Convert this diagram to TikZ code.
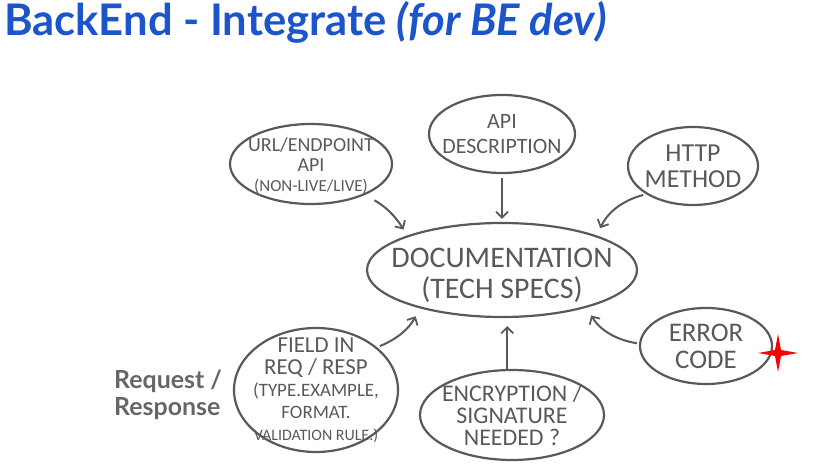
\documentclass[tikz,border=0pt]{standalone}
\usepackage{fontspec}
\setmainfont{Carlito}
\newfontfamily\titlefont{Lato}
\usetikzlibrary{arrows.meta, shapes.geometric}

\definecolor{titleblue}{HTML}{1B55C9}
\definecolor{sketchgray}{HTML}{595959}
\definecolor{labelgray}{HTML}{666666}

\begin{document}
\begin{tikzpicture}[
        x=1bp, y=-1bp,
        bubble/.style={ellipse, draw=sketchgray, line width=2.2bp,
                       text=sketchgray, inner sep=-28bp, align=center},
        feed/.style={-{Straight Barb[length=6bp, width=12bp, line width=1.8bp]},
                     draw=sketchgray, line width=2bp}
    ]
        \useasboundingbox (0,0) rectangle (825,471);

        % title
        \node[anchor=base west, inner sep=0pt, text=titleblue,
              font=\titlefont\bfseries\fontsize{43.7}{46}\selectfont] (title)
            at (4,36) {BackEnd - Integrate \textit{(for BE dev)}};

        % centre
        \node[bubble, minimum width=270bp, minimum height=94bp,
              font=\fontsize{30}{31}\selectfont] (doc) at (502,270)
            {\rule{0pt}{30bp}DOCUMENTATION\\(TECH SPECS)};

        % outer bubbles
        \node[bubble, minimum width=162bp, minimum height=80bp,
              font=\fontsize{20}{20}\selectfont] (url) at (311,164)
            {\rule{0pt}{18bp}URL/ENDPOINT\\API\\{\fontsize{17}{19}\selectfont (NON-LIVE/LIVE)}};
        \node[bubble, minimum width=146bp, minimum height=78bp,
              font=\fontsize{22}{25}\selectfont] (desc) at (502,134)
            {API\\DESCRIPTION};
        \node[bubble, minimum width=130bp, minimum height=78bp,
              font=\fontsize{26}{26}\selectfont] (http) at (693,166)
            {HTTP\\METHOD};
        \node[bubble, minimum width=164bp, minimum height=124bp,
              font=\fontsize{23}{22}\selectfont] (field) at (316,390)
            {FIELD IN\\REQ / RESP\\{\fontsize{19}{20}\selectfont (TYPE.EXAMPLE,}\\
             {\fontsize{19}{18}\selectfont FORMAT.}\\
             {\fontsize{16}{16}\selectfont VALIDATION RULE.)}};
        \node[bubble, minimum width=184bp, minimum height=90bp,
              font=\fontsize{24}{22}\selectfont] (crypt) at (512,415)
            {ENCRYPTION /\\SIGNATURE\\NEEDED ?};
        \node[bubble, minimum width=132bp, minimum height=76bp,
              font=\fontsize{27}{27}\selectfont] (err) at (706,346)
            {ERROR\\CODE};

        % side label
        \node[anchor=base west, align=left, text=labelgray, inner sep=0pt,
              font=\titlefont\bfseries\fontsize{25}{27}\selectfont] (reqres)
            at (114,415) {Request /\\Response};

        % red star
        \fill[red] (778,334) -- (781,350) -- (798,353) -- (781,356)
            -- (778,372) -- (775,356) -- (758,353) -- (775,350) -- cycle;

        % connectors
        \draw[feed, bend left=15, shorten <=11bp, shorten >=7bp]
            (url.-30) to (doc.160);
        \draw[feed, shorten <=4bp, shorten >=3bp] (desc) -- (doc);
        \draw[feed, bend right=25, shorten <=3bp, shorten >=8bp]
            (http.211) to (doc.20);
        \draw[feed, bend right=20, shorten <=3bp, shorten >=9bp]
            (field.35) to (doc.-155);
        \draw[feed, shorten >=8bp] (crypt.96) -- (crypt.96 |- doc.south);
        \draw[feed, bend left=25, shorten <=2bp, shorten >=9bp]
            (err.178) to (doc.-24);
    \end{tikzpicture}
\end{document}
